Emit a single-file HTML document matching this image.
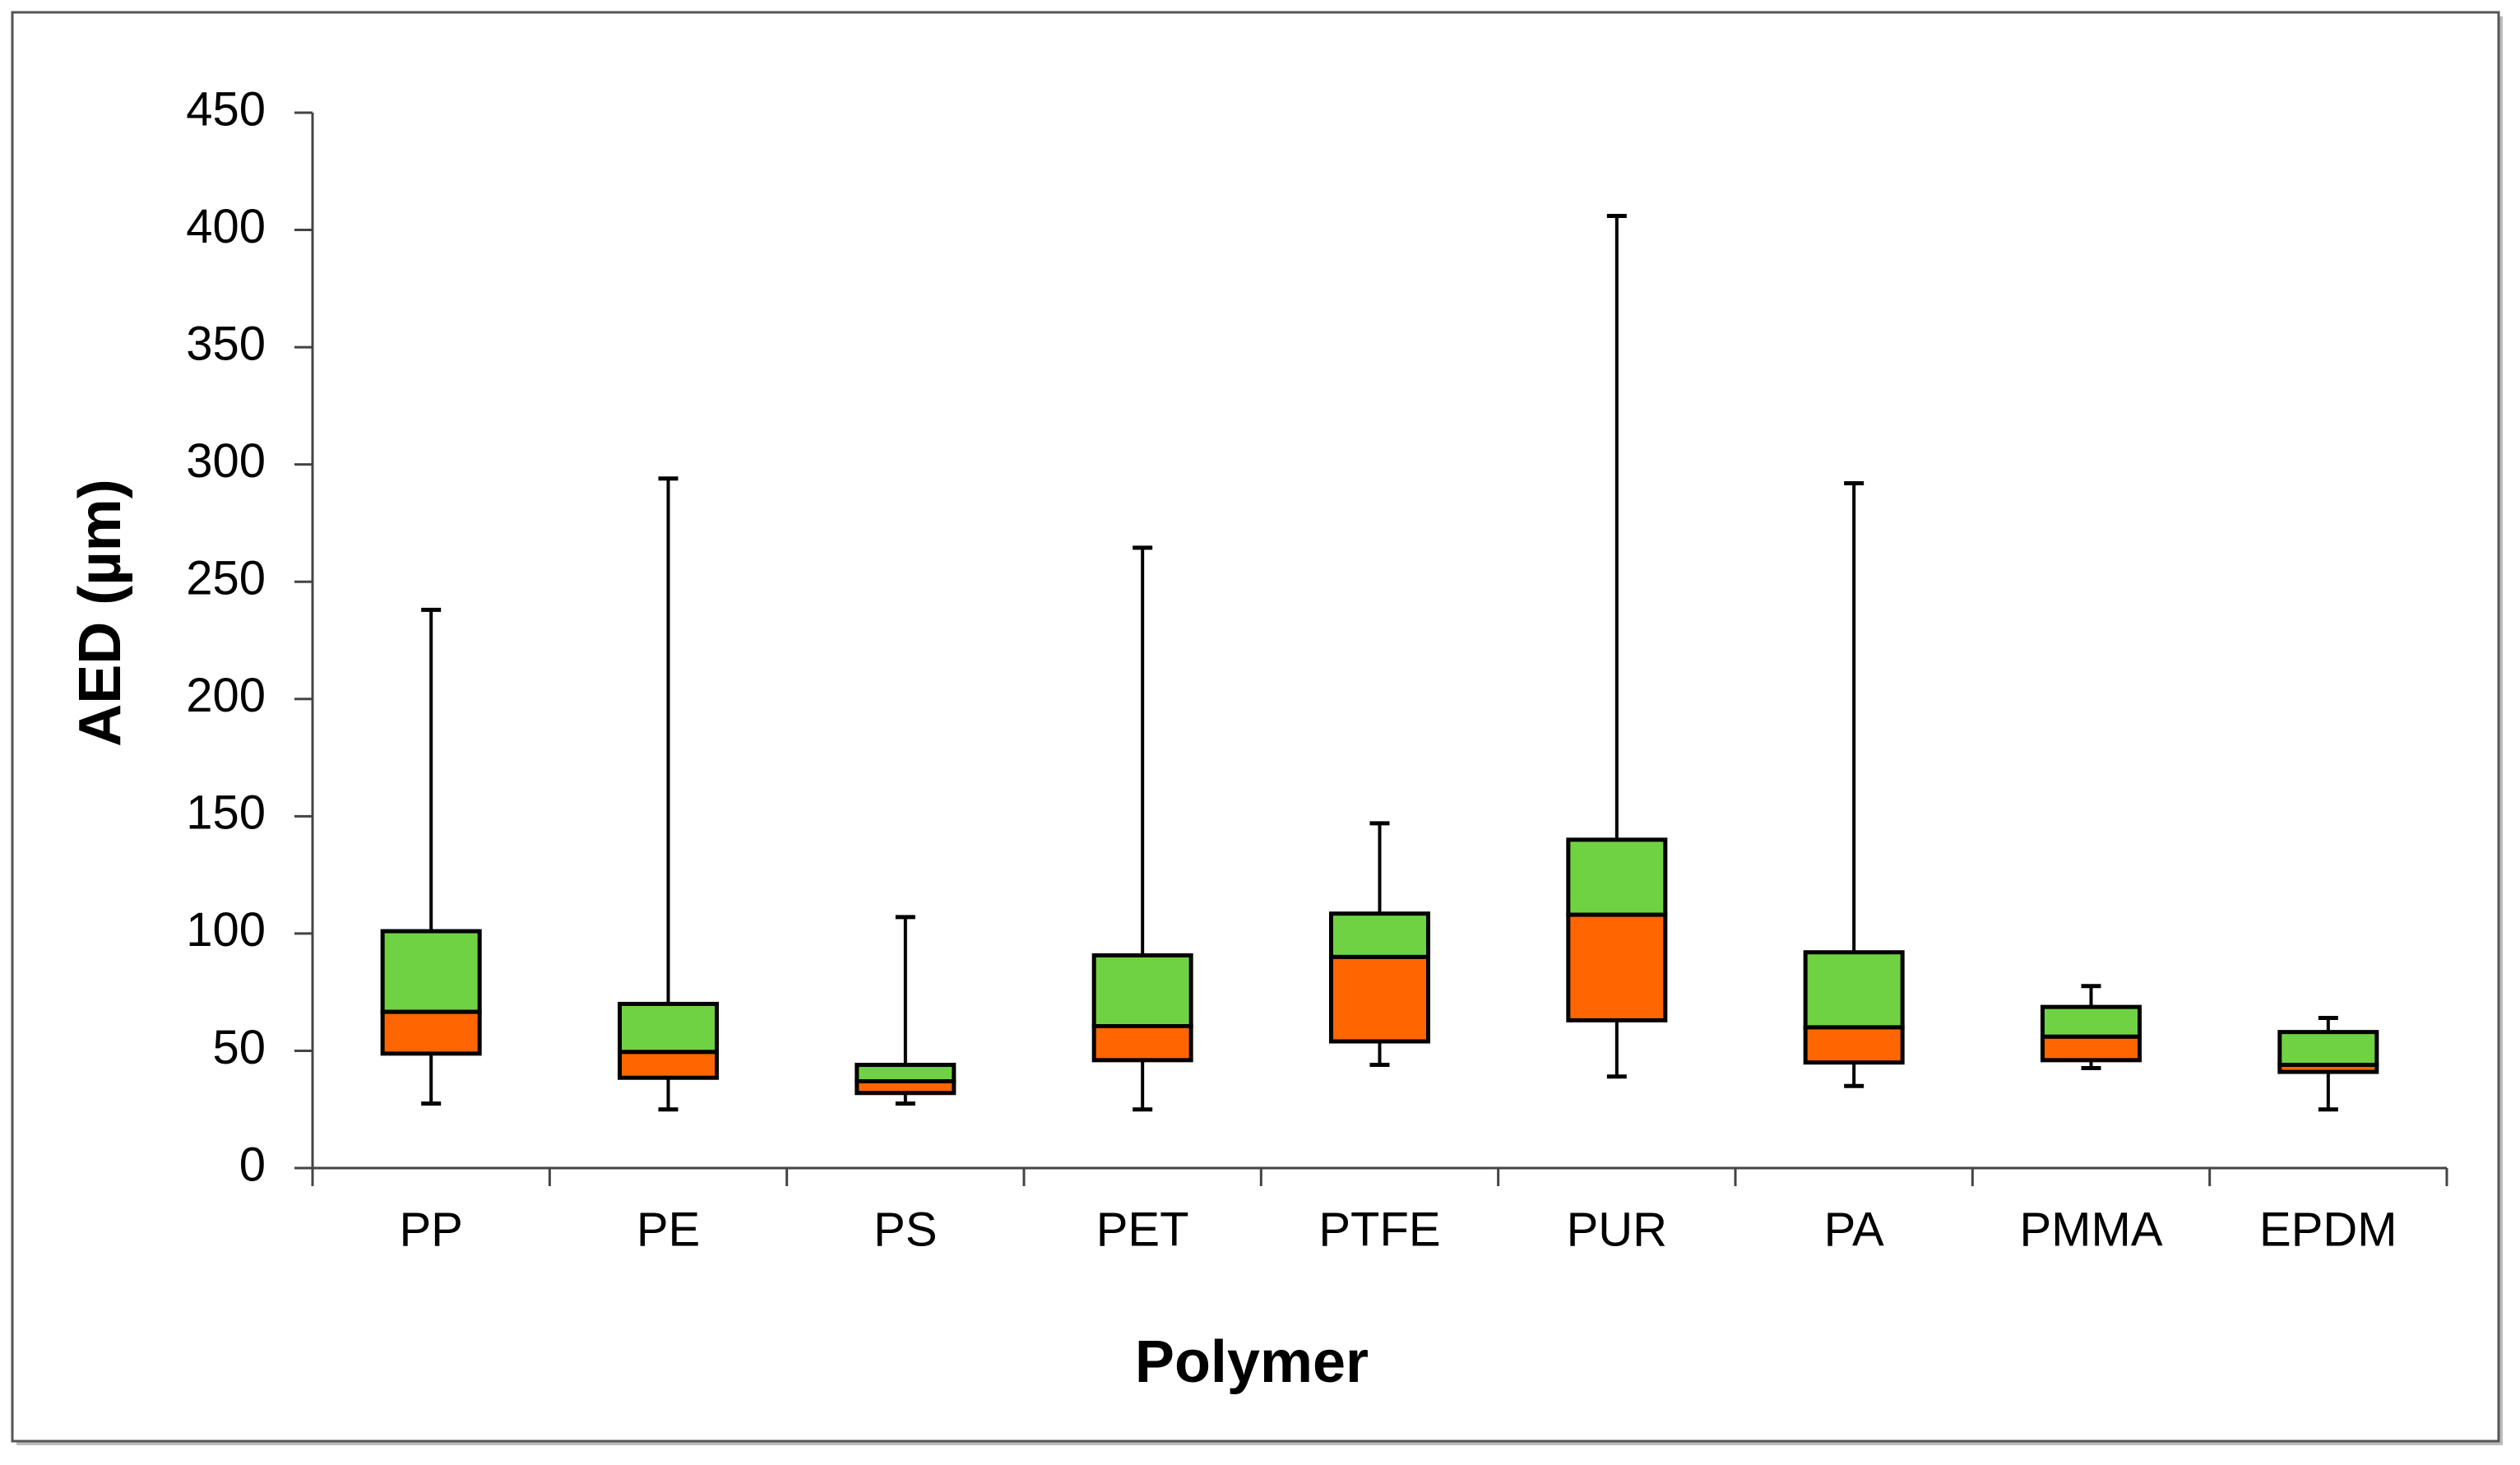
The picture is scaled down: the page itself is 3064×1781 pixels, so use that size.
<!DOCTYPE html>
<html><head><meta charset="utf-8"><style>
html,body{margin:0;padding:0;background:#fff;}
svg{display:block;font-family:"Liberation Sans",sans-serif;}
</style></head><body>
<svg id="chart" width="3064" height="1781" viewBox="0 0 3064 1781" xmlns="http://www.w3.org/2000/svg">
<rect x="20" y="20" width="3023" height="1737" fill="#bbb"/>
<rect x="15" y="15" width="3023" height="1737" fill="#fff" stroke="#555" stroke-width="3"/>
<g id="axes"></g>
<g id="marks"></g>
<text x="127" y="745" transform="rotate(-90 127 745)" text-anchor="middle" dominant-baseline="middle" font-size="72" font-weight="bold">AED (µm)</text>
<text x="1522" y="1680" text-anchor="middle" font-size="72" font-weight="bold">Polymer</text>
</svg>
<script>
const categories = ["PP","PE","PS","PET","PTFE","PUR","PA","PMMA","EPDM"];
const mins   = [27.5, 25, 27.5, 25, 44, 39, 35, 42.6, 25];
const q1s    = [48.8, 38.5, 32, 46, 54, 63, 45, 46, 41];
const medians= [66.6, 49.5, 37, 60.5, 90, 108, 60, 56, 44];
const q3s    = [101, 70, 44, 90.7, 108.5, 140, 92, 68.7, 58];
const maxs   = [238, 294, 107, 264.5, 147, 406, 292, 77.6, 64];
const yTicks = [0,50,100,150,200,250,300,350,400,450];

const NS="http://www.w3.org/2000/svg";
const X0=380, X1=2975, Y0=1420, YTOP=137, YMAX=450;
const bandW=(X1-X0)/categories.length;
const y=v=>Y0-(v/YMAX)*(Y0-YTOP);
const xc=i=>X0+bandW*(i+0.5);
function mk(parent,tag,attrs){const e=document.createElementNS(NS,tag);for(const k in attrs)e.setAttribute(k,attrs[k]);parent.appendChild(e);return e;}
const axes=document.getElementById('axes'), marks=document.getElementById('marks');

let e=mk(axes,'line',{x1:X0,y1:YTOP,x2:X0,y2:Y0,stroke:'#444','stroke-width':3});


e=mk(axes,'line',{x1:X0-22,y1:Y0,x2:X1,y2:Y0,stroke:'#444','stroke-width':3});


yTicks.forEach(t=>{
  let l=mk(axes,'line',{x1:X0-22,y1:y(t),x2:X0,y2:y(t),stroke:'#444','stroke-width':3});
  
  
  let tx=mk(axes,'text',{x:323,y:y(t),'text-anchor':'end','dominant-baseline':'middle','font-size':58});
  tx.textContent=t;
  
  
});
for(let i=0;i<=categories.length;i++){
  let l=mk(axes,'line',{x1:X0+bandW*i,y1:Y0,x2:X0+bandW*i,y2:Y0+22,stroke:'#444','stroke-width':3});
  
  
}
const BW=118, CAP=24;
categories.forEach((c,i)=>{
  const cx=xc(i);
  let tx=mk(axes,'text',{x:cx,y:1499,'text-anchor':'middle','dominant-baseline':'middle','font-size':58});
  tx.textContent=c;
  
  
  const g=mk(marks,'g',{});
  
  
  let w=mk(g,'line',{x1:cx,y1:y(maxs[i]),x2:cx,y2:y(q3s[i]),stroke:'#000','stroke-width':4});
  
  
  w=mk(g,'line',{x1:cx,y1:y(q1s[i]),x2:cx,y2:y(mins[i]),stroke:'#000','stroke-width':4});
  
  
  w=mk(g,'line',{x1:cx-CAP/2,y1:y(maxs[i]),x2:cx+CAP/2,y2:y(maxs[i]),stroke:'#000','stroke-width':5});
  
  
  w=mk(g,'line',{x1:cx-CAP/2,y1:y(mins[i]),x2:cx+CAP/2,y2:y(mins[i]),stroke:'#000','stroke-width':5});
  
  
  let r=mk(g,'rect',{x:cx-BW/2,y:y(q3s[i]),width:BW,height:y(medians[i])-y(q3s[i]),fill:'#6fd243',stroke:'#000','stroke-width':5});
  
  
  r=mk(g,'rect',{x:cx-BW/2,y:y(medians[i]),width:BW,height:y(q1s[i])-y(medians[i]),fill:'#ff6600',stroke:'#000','stroke-width':5});
  
  
});
</script>
</body></html>
